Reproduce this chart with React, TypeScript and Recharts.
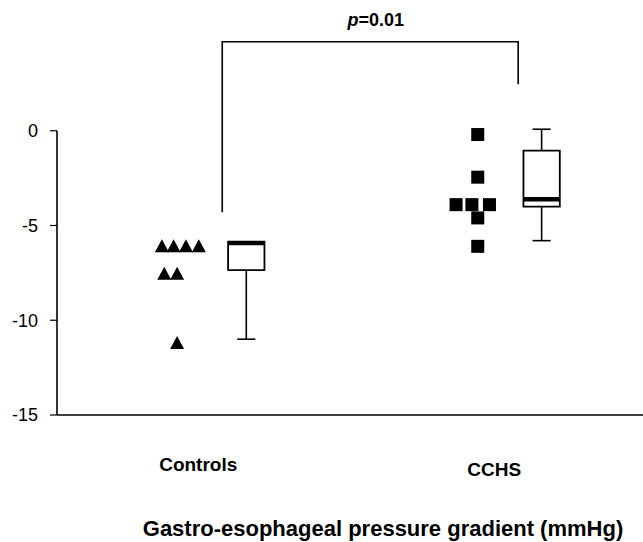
import React from 'react';
import {
  ComposedChart, Scatter, Line, XAxis, YAxis, ReferenceArea, ReferenceLine, ReferenceDot,
} from 'recharts';

// group names and where they sit on the x scale (0-100)
const groups = ['Controls', 'CCHS'];
const groupX = [24.1, 74.6];

// individual values
const controlsX = [17.9, 19.9, 22.0, 24.2, 18.3, 20.5, 20.5];
const controlsY = [-6.1, -6.1, -6.1, -6.1, -7.55, -7.55, -11.2];
const cchsX = [71.8, 71.8, 68.1, 70.8, 73.8, 71.8, 71.8];
const cchsY = [-0.2, -2.45, -3.9, -3.9, -3.9, -4.6, -6.1];

// box plot summaries
const boxX = [32.3, 82.7];
const boxMin = [-11.0, -5.8];
const boxQ1 = [-7.35, -4.0];
const boxMedian = [-5.95, -3.62];
const boxQ3 = [-5.85, -1.05];
const boxMax = [-5.85, 0.08];

// significance bracket
const bracketX = [28.2, 28.2, 78.7, 78.7];
const bracketY = [-4.3, 4.7, 4.7, 2.45];
const pLabel = '=0.01';

const yTicks = [0, -5, -10, -15];
const xTitle = 'Gastro-esophageal pressure gradient (mmHg)';

const FONT = '"Liberation Sans", Arial, sans-serif';
const BOX_HALF = 3.1;
const CAP_HALF = 1.55;

const controls = controlsX.map((x, i) => ({ x, y: controlsY[i] }));
const cchs = cchsX.map((x, i) => ({ x, y: cchsY[i] }));
const bracket = bracketX.map((x, i) => ({ x, y: bracketY[i] }));

const Triangle = (props: any) => {
  const { cx, cy } = props;
  return <polygon points={`${cx},${cy - 7} ${cx + 7},${cy + 6} ${cx - 7},${cy + 6}`} fill="#000" />;
};

const Square = (props: any) => {
  const { cx, cy } = props;
  return <rect x={cx - 6.5} y={cy - 6.5} width={13} height={13} fill="#000" />;
};

const GroupTick = (props: any) => {
  const { x, y, payload } = props;
  const i = groupX.indexOf(payload.value);
  return (
    <text x={x} y={y + 47 + (i === 1 ? 5 : 0)} textAnchor="middle" dominantBaseline="central"
      fontFamily={FONT} fontWeight="bold" fontSize={19} fill="#000">
      {groups[i]}
    </text>
  );
};

export default function App() {
  return (
    <div style={{ position: 'absolute', left: 0, top: 0, background: '#fff' }}>
      <ComposedChart width={643} height={542} margin={{ top: 36, right: 0, bottom: 0, left: 7 }}>
        <XAxis
          dataKey="x"
          type="number"
          domain={[0, 100]}
          ticks={groupX}
          tick={<GroupTick />}
          tickLine={false}
          tickSize={0}
          height={127}
          axisLine={{ stroke: '#000', strokeWidth: 1.6 }}
          label={{
            content: (p: any) => {
              const vb = p.viewBox;
              return (
                <text x={383} y={vb.y + 113} textAnchor="middle" dominantBaseline="central"
                  fontFamily={FONT} fontWeight="bold" fontSize={22} fill="#000">
                  {xTitle}
                </text>
              );
            },
          }}
        />
        <YAxis
          dataKey="y"
          type="number"
          domain={[-15, 5]}
          ticks={yTicks}
          width={50}
          axisLine={false}
          tickSize={7}
          tickMargin={12}
          tickLine={{ stroke: '#000', strokeWidth: 1.2 }}
          tick={{ fill: '#000', fontSize: 18, fontFamily: FONT }}
        />
        <ReferenceLine segment={[{ x: 0, y: -15 }, { x: 0, y: 0 }]} stroke="#000" strokeWidth={1.6} />

        {boxX.map((bx, i) => (
          <React.Fragment key={groups[i]}>
            <ReferenceLine segment={[{ x: bx, y: boxMin[i] }, { x: bx, y: boxQ1[i] }]} stroke="#000" strokeWidth={1.6} />
            <ReferenceLine segment={[{ x: bx, y: boxQ3[i] }, { x: bx, y: boxMax[i] }]} stroke="#000" strokeWidth={1.6} />
            <ReferenceLine segment={[{ x: bx - CAP_HALF, y: boxMin[i] }, { x: bx + CAP_HALF, y: boxMin[i] }]} stroke="#000" strokeWidth={1.6} />
            {boxMax[i] > boxQ3[i] && (
              <ReferenceLine segment={[{ x: bx - CAP_HALF, y: boxMax[i] }, { x: bx + CAP_HALF, y: boxMax[i] }]} stroke="#000" strokeWidth={1.6} />
            )}
            <ReferenceArea x1={bx - BOX_HALF} x2={bx + BOX_HALF} y1={boxQ1[i]} y2={boxQ3[i]}
              fill="#fff" fillOpacity={1} stroke="#000" strokeWidth={1.8} />
            <ReferenceLine segment={[{ x: bx - BOX_HALF, y: boxMedian[i] }, { x: bx + BOX_HALF, y: boxMedian[i] }]}
              stroke="#000" strokeWidth={i === 0 ? 3.5 : 4.5} />
          </React.Fragment>
        ))}

        <Line data={bracket} dataKey="y" type="linear" stroke="#000" strokeWidth={1.6} dot={false}
          isAnimationActive={false} />
        <ReferenceDot x={54.4} y={4.7} r={0} ifOverflow="visible"
          label={{
            content: (p: any) => {
              const vb = p.viewBox;
              const cx = vb.x + (vb.width || 0) / 2;
              return (
                <text x={cx} y={20} textAnchor="middle" dominantBaseline="central"
                  fontFamily={FONT} fontWeight="bold" fontSize={18} fill="#000">
                  <tspan fontStyle="italic">p</tspan>{pLabel}
                </text>
              );
            },
          }}
        />

        <Scatter data={controls} dataKey="y" shape={<Triangle />} isAnimationActive={false} />
        <Scatter data={cchs} dataKey="y" shape={<Square />} isAnimationActive={false} />
      </ComposedChart>
    </div>
  );
}
